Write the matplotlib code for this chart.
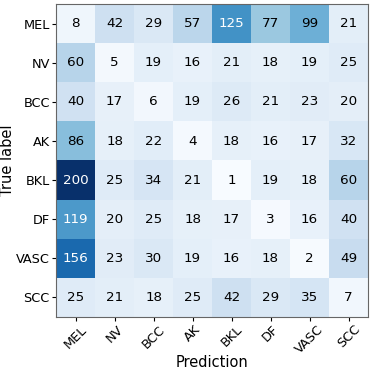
import numpy as np
import matplotlib
matplotlib.use("Agg")
import matplotlib.pyplot as plt

classes = ["MEL", "NV", "BCC", "AK", "BKL", "DF", "VASC", "SCC"]

cm = np.array([
    [8, 42, 29, 57, 125, 77, 99, 21],
    [60, 5, 19, 16, 21, 18, 19, 25],
    [40, 17, 6, 19, 26, 21, 23, 20],
    [86, 18, 22, 4, 18, 16, 17, 32],
    [200, 25, 34, 21, 1, 19, 18, 60],
    [119, 20, 25, 18, 17, 3, 16, 40],
    [156, 23, 30, 19, 16, 18, 2, 49],
    [25, 21, 18, 25, 42, 29, 35, 7],
])

fig = plt.figure(figsize=(3.74, 3.69), dpi=100)
ax = fig.add_axes([0.15, 0.142, 0.834, 0.846])
ax.imshow(cm, interpolation="nearest", cmap=plt.cm.Blues, aspect="auto")

ax.set_xticks(np.arange(len(classes)))
ax.set_yticks(np.arange(len(classes)))
ax.set_xticklabels(classes, rotation=45, fontsize=9.3)
ax.set_yticklabels(classes, fontsize=9.3)
ax.tick_params(length=3, pad=1.5)
ax.set_xlabel("Prediction", fontsize=10.5)
ax.set_ylabel("True label", fontsize=10.5)
ax.xaxis.set_label_coords(0.5, -0.124)
ax.yaxis.set_label_coords(-0.131, 0.5)

for spine in ax.spines.values():
    spine.set_color("#666666")

thresh = cm.max() / 2.0
for i in range(cm.shape[0]):
    for j in range(cm.shape[1]):
        ax.text(j, i, str(cm[i, j]), ha="center", va="center", fontsize=9.7,
                color="white" if cm[i, j] > thresh else "black")

fig.savefig("out.png", dpi=100)
